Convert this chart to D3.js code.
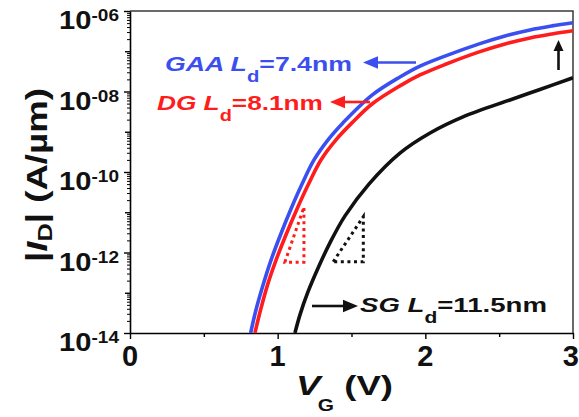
<!DOCTYPE html>
<html>
<head>
<meta charset="utf-8">
<script src="https://cdn.jsdelivr.net/npm/d3@7"></script>
<style>
  html, body { margin: 0; padding: 0; background: #fff; }
  svg { display: block; }
  text { font-family: "Liberation Sans", Arial, Helvetica, sans-serif; font-weight: bold; }
</style>
</head>
<body>
<svg id="chart" width="579" height="417"></svg>
<script>
// Transfer characteristics |I_D| vs V_G for three gate geometries.
// Currents are given as log10(|I_D| / (A/µm)).
const gaaVg    = [0.817, 0.853, 0.901, 0.955, 1.016, 1.090, 1.165, 1.246, 1.341, 1.442, 1.639, 1.828, 1.964, 2.133, 2.370, 2.540, 2.709, 2.858, 3.0];
const gaaLogId = [-14.0, -13.43, -12.81, -12.19, -11.59, -10.92, -10.30, -9.70, -9.20, -8.78, -8.09, -7.64, -7.37, -7.12, -6.81, -6.62, -6.47, -6.37, -6.29];

const dgVg     = [0.846, 0.884, 0.931, 0.989, 1.053, 1.131, 1.209, 1.293, 1.395, 1.503, 1.639, 1.828, 1.964, 2.133, 2.370, 2.540, 2.709, 2.858, 3.0];
const dgLogId  = [-14.0, -13.43, -12.81, -12.19, -11.59, -10.92, -10.30, -9.70, -9.20, -8.78, -8.31, -7.86, -7.59, -7.33, -7.01, -6.82, -6.67, -6.57, -6.49];

const sgVg     = [1.117, 1.151, 1.205, 1.273, 1.354, 1.456, 1.618, 1.828, 2.032, 2.255, 2.573, 2.776, 3.0];
const sgLogId  = [-14.0, -13.55, -12.98, -12.39, -11.76, -11.09, -10.30, -9.53, -9.03, -8.63, -8.21, -7.95, -7.66];

// Subthreshold-slope guide triangles: [V_G, log10 I_D] vertices.
const dgSlopeTri = [[1.049, -12.24], [1.178, -10.87], [1.178, -12.24]];
const sgSlopeTri = [[1.376, -12.23], [1.58, -11.11], [1.58, -12.23]];

// Axis ticks
const xMajorTicks = [0, 1, 2, 3];
const xMinorTicks = [0.5, 1.5, 2.5];
const yLabelExps  = [-14, -12, -10, -8, -6];
const yMidExps    = [-13, -11, -9, -7];

const blue = "#3b4ff0", red = "#ff1c1c", black = "#111";

const svg = d3.select("#chart");
const plotLeft = 130, plotRight = 573, plotTop = 11, plotBottom = 333;

const x = d3.scaleLinear().domain([0, 3]).range([plotLeft, plotRight]);
const y = d3.scaleLog().domain([1e-14, 1e-6]).range([plotBottom, plotTop]);

svg.append("defs").append("clipPath").attr("id", "plot")
  .append("rect").attr("x", plotLeft).attr("y", plotTop)
  .attr("width", plotRight - plotLeft).attr("height", plotBottom - plotTop);

// Frame: top and right edges
svg.append("path")
  .attr("d", `M${plotLeft},${plotTop}H${plotRight}V${plotBottom}`)
  .attr("fill", "none").attr("stroke", "#3a3a3a").attr("stroke-width", 1.5);

// X axis
function styleAxis(g) {
  g.selectAll(".domain").attr("stroke", "#000").attr("stroke-width", 1.6);
  g.selectAll(".tick line").attr("stroke", "#000").attr("stroke-width", 1.4);
  g.selectAll(".tick text").remove();
}
svg.append("g").attr("transform", `translate(0,${plotBottom})`)
  .call(d3.axisBottom(x).tickValues(xMajorTicks).tickSize(6).tickSizeOuter(0).tickFormat(""))
  .call(styleAxis);
svg.append("g").attr("transform", `translate(0,${plotBottom})`)
  .call(d3.axisBottom(x).tickValues(xMinorTicks).tickSize(4).tickSizeOuter(0).tickFormat(""))
  .call(styleAxis).call(g => g.select(".domain").remove());

// Y axis (log): labelled decades, odd decades, and 2..9 minors
const yMinor = [];
for (let e = -14; e < -6; e++) for (let k = 2; k <= 9; k++) yMinor.push(k * Math.pow(10, e));
svg.append("g").attr("transform", `translate(${plotLeft},0)`)
  .call(d3.axisLeft(y).tickValues(yLabelExps.map(e => Math.pow(10, e))).tickSize(6).tickSizeOuter(0).tickFormat(""))
  .call(styleAxis);
svg.append("g").attr("transform", `translate(${plotLeft},0)`)
  .call(d3.axisLeft(y).tickValues(yMidExps.map(e => Math.pow(10, e))).tickSize(5).tickSizeOuter(0).tickFormat(""))
  .call(styleAxis).call(g => g.select(".domain").remove());
svg.append("g").attr("transform", `translate(${plotLeft},0)`)
  .call(d3.axisLeft(y).tickValues(yMinor).tickSize(3).tickSizeOuter(0).tickFormat(""))
  .call(styleAxis).call(g => g.select(".domain").remove())
  .selectAll(".tick line").attr("stroke-width", 1);

// X tick labels (the last one is kept inside the page edge)
svg.append("g").selectAll("text").data(xMajorTicks).join("text")
  .attr("x", (d, i) => i === xMajorTicks.length - 1 ? 579 : x(d)).attr("y", 366)
  .attr("text-anchor", (d, i) => i === xMajorTicks.length - 1 ? "end" : "middle")
  .attr("font-size", 29).attr("fill", "#111")
  .text(d => d);

// Y tick labels: 10 with superscript exponent
yLabelExps.forEach(e => {
  const g = svg.append("g").attr("transform", `translate(119,${y(Math.pow(10, e)) + 18}) scale(1.12,1)`);
  const t = g.append("text").attr("text-anchor", "end").attr("fill", "#111");
  t.append("tspan").attr("font-size", 26).text("10");
  t.append("tspan").attr("font-size", 17).attr("dy", -8)
    .text("-" + String(Math.abs(e)).padStart(2, "0"));
});

// stretch a group horizontally so its content spans the given width
function fitWidth(g, width) {
  const w = g.node().getBBox().width;
  g.attr("transform", g.attr("transform") + ` scale(${width / w},1)`);
}

// Axis titles
{
  const g = svg.append("g").attr("transform", "translate(296,395)");
  const t = g.append("text").attr("fill", "#111");
  t.append("tspan").attr("font-size", 28).attr("font-style", "italic").text("V");
  t.append("tspan").attr("font-size", 16).attr("dy", 16).attr("dx", -2).text("G");
  t.append("tspan").attr("font-size", 28).attr("dy", -16).text(" (V)");
  fitWidth(g, 97);
}
{
  const g = svg.append("g").attr("transform", "translate(47,175) rotate(-90)");
  const t = g.append("text").attr("fill", "#111").attr("text-anchor", "middle");
  t.append("tspan").attr("font-size", 29).text("|");
  t.append("tspan").attr("font-size", 29).attr("font-style", "italic").text("I");
  t.append("tspan").attr("font-size", 20).attr("dy", 5).text("D");
  t.append("tspan").attr("font-size", 29).attr("dy", -5).text("| (A/µm)");
  fitWidth(g, 174);
}

// Curves
const line = d3.line().x(d => x(d[0])).y(d => y(Math.pow(10, d[1]))).curve(d3.curveCatmullRom.alpha(0.5));
const plot = svg.append("g").attr("clip-path", "url(#plot)");
[[sgVg, sgLogId, black], [dgVg, dgLogId, red], [gaaVg, gaaLogId, blue]].forEach(([vg, li, c]) => {
  plot.append("path")
    .datum(vg.map((v, i) => [v, li[i]]))
    .attr("d", line)
    .attr("fill", "none").attr("stroke", c).attr("stroke-width", 3.6)
    .attr("stroke-linejoin", "round");
});

// Slope triangles (dotted)
[[dgSlopeTri, red], [sgSlopeTri, black]].forEach(([tri, c]) => {
  svg.append("path")
    .attr("d", d3.line().x(d => x(d[0])).y(d => y(Math.pow(10, d[1]))).curve(d3.curveLinearClosed)(tri))
    .attr("fill", "none").attr("stroke", c).attr("stroke-width", 3)
    .attr("stroke-dasharray", "3,3.6");
});

// Arrows
function arrow(x1, y1, x2, y2, c, headLen = 15, headHalf = 6.3) {
  const a = Math.atan2(y2 - y1, x2 - x1);
  const bx = x2 - headLen * Math.cos(a), by = y2 - headLen * Math.sin(a);
  svg.append("line").attr("x1", x1).attr("y1", y1).attr("x2", bx).attr("y2", by)
    .attr("stroke", c).attr("stroke-width", 2.6);
  const px = -Math.sin(a) * headHalf, py = Math.cos(a) * headHalf;
  svg.append("path")
    .attr("d", `M${x2},${y2}L${bx + px},${by + py}L${bx - px},${by - py}Z`)
    .attr("fill", c);
}
arrow(416, 62.5, 363, 62.5, blue);
arrow(370, 102, 330, 102, red);
arrow(312, 306, 358, 306, black);
arrow(558.5, 70, 558.5, 40, black, 11, 5);

// Series labels
function seriesLabel(px, py, name, value, c, width) {
  const g = svg.append("g").attr("transform", `translate(${px},${py})`);
  const t = g.append("text").attr("fill", c).attr("font-size", 21);
  t.append("tspan").attr("font-style", "italic").text(name + " L");
  t.append("tspan").attr("font-size", 16).attr("dy", 11).text("d");
  t.append("tspan").attr("dy", -11).text("=" + value);
  fitWidth(g, width);
}
seriesLabel(165, 71, "GAA", "7.4nm", blue, 187);
seriesLabel(157, 110, "DG", "8.1nm", red, 166);
seriesLabel(360, 312, "SG", "11.5nm", black, 187);
</script>
</body>
</html>
